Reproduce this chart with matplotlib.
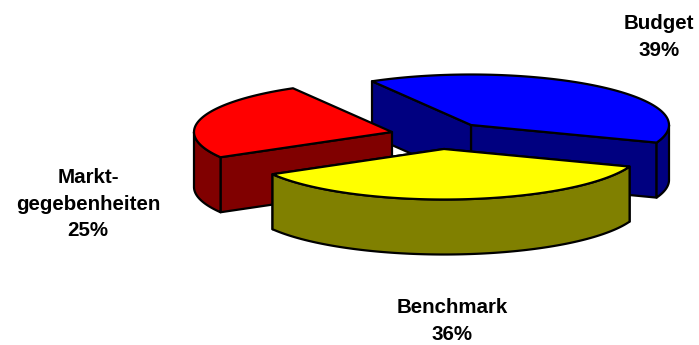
#!/usr/bin/env python3
"""Exploded 3-D style pie of the budget split, built from projected ellipses."""
import numpy as np
import matplotlib
matplotlib.use("Agg")
import matplotlib.pyplot as plt
from matplotlib.patches import Polygon

categories = ["Budget", "Benchmark", "Markt-\ngegebenheiten"]
shares = [39, 36, 25]

TOP = {"Budget": "#0000ff", "Benchmark": "#ffff00", "Markt-\ngegebenheiten": "#ff0000"}
SIDE = {"Budget": "#000080", "Benchmark": "#808000", "Markt-\ngegebenheiten": "#800000"}
CENTER = {"Budget": (471, 125), "Benchmark": (444, 149), "Markt-\ngegebenheiten": (392, 132)}
LABEL = {"Budget": (659, 37), "Benchmark": (452, 321), "Markt-\ngegebenheiten": (88, 204)}

A, B = 198.0, 50.5     # ellipse half axes
DEPTH = 55.0
LW = 1.6


def rim(c, t0, t1):
    t = np.radians(np.linspace(t0, t1, 120))
    return np.column_stack([c[0] + A*np.cos(t), c[1] - B*np.sin(t)])


def wall(ax, pts, color):
    low = pts[::-1] + [0, DEPTH]
    ax.add_patch(Polygon(np.vstack([pts, low]), closed=True, fc=color, ec="k",
                         lw=LW, joinstyle="round"))


def draw_slice(ax, name, t0, t1):
    c = np.array(CENTER[name], float)
    a = rim(c, t0, t1)
    # flat cut faces first, only the ones turned towards the viewer
    for edge in (a[0], a[-1]):
        if edge[1] > c[1] or name == "Budget":
            wall(ax, np.array([c, edge]), SIDE[name])
    # outer curved wall: the front half of the ellipse, 180..360 deg
    for lo, hi in [(180, 360), (540, 720)]:
        s, e = max(t0, lo), min(t1, hi)
        if e > s:
            wall(ax, rim(c, s, e), SIDE[name])
    ax.add_patch(Polygon(np.vstack([c, a]), closed=True, fc=TOP[name], ec="k",
                         lw=LW, joinstyle="round"))


fig = plt.figure(figsize=(6.99, 3.45), dpi=100)
ax = fig.add_axes([0, 0, 1, 1])
ax.set_xlim(0, 699); ax.set_ylim(345, 0); ax.axis("off")

# slices run counter-clockwise from the Budget/Markt boundary
start = 120.0
spans = dict(zip(categories, 3.6*np.array(shares)))
t_red = (start, start + spans[categories[2]])
t_yel = (t_red[1], t_red[1] + spans[categories[1]])
t_blu = (t_yel[1], t_yel[1] + spans[categories[0]])

draw_slice(ax, categories[0], *t_blu)
draw_slice(ax, categories[2], *t_red)
draw_slice(ax, categories[1], *t_yel)

for name, val in zip(categories, shares):
    ax.text(*LABEL[name], "%s\n%d%%" % (name, val), ha="center", va="center",
            family=["Liberation Sans"], weight="bold", fontsize=14.8, linespacing=1.5)

fig.savefig("out.png", dpi=100)
